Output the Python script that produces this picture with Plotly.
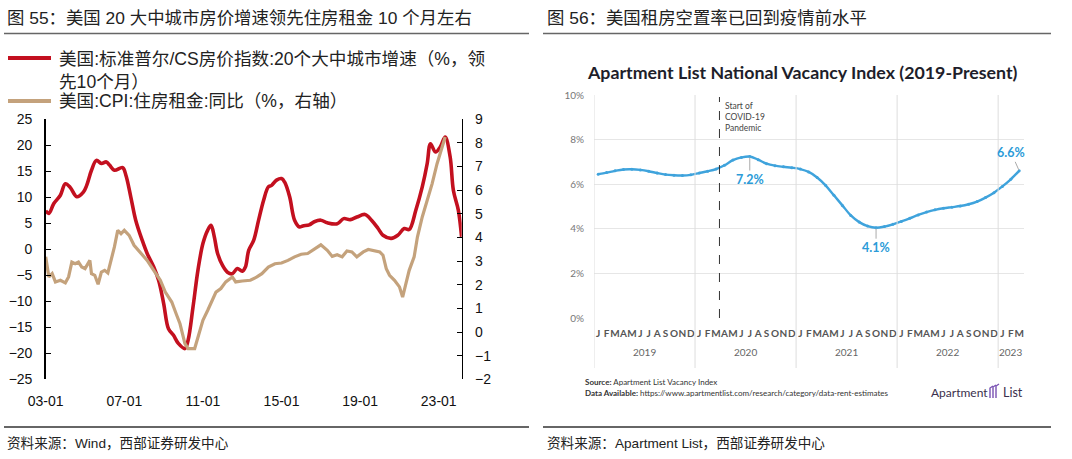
import plotly.graph_objects as go

# ---------------- Left panel data ----------------
red_dates = ["2003-01","2003-03","2003-06","2003-10","2004-01","2004-04","2004-08","2004-12","2005-02","2005-05",
             "2005-08","2005-11","2006-02","2006-04","2006-07","2006-12","2007-02","2007-05","2007-08","2007-12",
             "2008-03","2008-07","2008-10","2009-01","2009-04","2009-07","2009-10","2010-02","2010-04","2010-07",
             "2010-10","2011-01","2011-04","2011-06","2011-08","2011-10","2012-01","2012-04","2012-07","2012-10",
             "2013-01","2013-03","2013-05","2013-08","2013-11","2014-02","2014-05","2014-07","2014-10","2015-01",
             "2015-03","2015-06","2015-09","2015-12","2016-02","2016-06","2016-09","2017-01","2017-05","2017-11",
             "2018-03","2018-07","2018-11","2019-04","2019-08","2019-12","2020-03","2020-08","2020-12","2021-04",
             "2021-07","2021-11","2022-03","2022-06","2022-08","2022-11","2023-02","2023-05","2023-08","2023-10",
             "2024-01","2024-03"]
red_values = [7.4,6.9,8.8,10.4,12.6,11.9,10.1,11.0,12.3,15.2,
              17.1,16.5,16.8,16.2,15.2,15.7,14.2,10.1,5.6,1.7,
              -0.8,-3.4,-6.0,-10.4,-15.3,-16.5,-18.1,-19.1,-17.5,-11.1,
              -4.0,1.1,3.7,4.6,2.4,-0.8,-3.1,-4.4,-4.7,-3.7,
              -4.2,-3.4,-0.2,1.7,5.6,9.4,12.0,12.3,13.3,13.6,
              12.9,10.1,5.6,4.3,4.5,4.7,5.3,5.6,5.1,4.9,
              5.9,5.7,6.2,6.7,5.6,4.0,2.7,2.1,2.7,4.0,
              3.8,7.5,12.0,16.5,20.3,18.7,19.7,21.6,17.8,11.3,
              7.5,2.4]

tan_dates = ["2003-01","2003-03","2003-05","2003-07","2003-10","2004-01","2004-03","2004-05","2004-07","2004-09",
             "2004-11","2005-01","2005-04","2005-05","2005-07","2005-09","2005-11","2006-01","2006-03","2006-05",
             "2006-07","2006-09","2006-11","2007-01","2007-04","2007-07","2007-11","2008-03","2008-07","2008-11",
             "2009-02","2009-06","2009-09","2009-11","2010-02","2010-04","2010-08","2010-10","2011-01","2011-04",
             "2011-07","2011-09","2011-12","2012-03","2012-07","2012-09","2013-01","2013-06","2013-10","2014-01",
             "2014-05","2014-09","2015-01","2015-05","2015-09","2016-01","2016-05","2016-09","2017-01","2017-05",
             "2017-08","2017-11","2018-02","2018-05","2018-08","2018-11","2019-03","2019-06","2019-09","2020-01",
             "2020-03","2020-05","2020-07","2020-10","2021-01","2021-03","2021-05","2021-07","2021-10","2021-12",
             "2022-03","2022-06","2022-09","2022-12","2023-03","2023-05"]
tan_values = [3.18,2.33,2.47,2.12,2.19,2.08,2.33,2.96,2.89,2.96,
              2.75,2.68,3.03,2.47,2.40,2.02,2.54,2.61,2.50,3.03,
              3.60,4.30,4.16,4.30,4.09,3.67,3.32,3.03,2.61,2.19,
              1.69,1.27,0.71,0.35,-0.49,-0.70,-0.70,-0.21,0.50,0.92,
              1.34,1.69,1.84,2.12,2.33,2.12,2.16,2.19,2.33,2.47,
              2.75,2.89,2.92,3.03,3.18,3.29,3.32,3.50,3.69,3.46,
              3.20,3.27,3.18,3.43,3.39,3.18,3.39,3.49,3.46,3.39,
              3.25,2.68,2.40,2.19,1.91,1.48,2.05,2.61,3.18,4.02,
              4.87,5.57,6.28,7.12,7.83,8.25]

left_tick_dates = ["2003-01-01","2007-01-01","2011-01-01","2015-01-01","2019-01-01","2023-01-01"]
left_tick_text = ["03-01","07-01","11-01","15-01","19-01","23-01"]
left_y_ticks = [-25,-20,-15,-10,-5,0,5,10,15,20,25]
right_y_ticks = [-2,-1,0,1,2,3,4,5,6,7,8,9]

# ---------------- Right panel data ----------------
vac_values = [6.45,6.52,6.60,6.66,6.67,6.64,6.58,6.50,6.43,6.40,6.39,6.42,
              6.50,6.58,6.68,6.85,7.08,7.20,7.24,7.10,6.92,6.83,6.78,6.74,
              6.68,6.55,6.30,5.95,5.50,5.05,4.60,4.30,4.12,4.05,4.10,4.20,
              4.33,4.47,4.62,4.75,4.85,4.92,4.97,5.02,5.10,5.22,5.40,5.62,
              5.90,6.22,6.60]
month_letters = ["J","F","M","A","M","J","J","A","S","O","N","D"]
vac_month_idx = list(range(len(vac_values)))
vac_month_text = [month_letters[i % 12] for i in vac_month_idx]
year_labels = ["2019","2020","2021","2022","2023"]
year_centers = [5.5, 17.5, 29.5, 41.5, 49]
year_bounds = [-0.5, 11.5, 23.5, 35.5, 47.5]
covid_x = 14.4
vac_y_ticks = [0, 2, 4, 6, 8, 10]
vac_labels = [(18, 7.24, "7.2%", 0, 23), (33, 4.05, "4.1%", 0, 20), (50, 6.60, "6.6%", -8, -18)]

# ---------------- Layout helpers ----------------
W, H = 1072, 459
def px(x):
    return x / W
def py(y):
    return 1 - y / H

LAT = "Liberation Sans, Arial, Noto Sans CJK SC"
CJK = "Liberation Sans, Arial, Noto Sans CJK SC"
RED = "#c3101f"
TAN = "#c4a27c"
BLUE = "#3fa3dc"

left_dom_x = [px(45.7), px(461.7)]
left_dom_y = [py(379.3), py(119.3)]
right_dom_x = [px(594), px(1024)]
right_dom_y = [py(318), py(95)]

fig = go.Figure()
fig.add_trace(go.Scatter(x=red_dates, y=red_values, mode="lines", line=dict(color=RED, width=3.6),
                         xaxis="x", yaxis="y", showlegend=False, line_shape="spline"))
fig.add_trace(go.Scatter(x=tan_dates, y=tan_values, mode="lines", line=dict(color=TAN, width=3.2),
                         xaxis="x", yaxis="y2", showlegend=False))
fig.add_trace(go.Scatter(x=vac_month_idx, y=vac_values, mode="lines+markers",
                         line=dict(color=BLUE, width=2.4, shape="spline"),
                         marker=dict(size=3, color=BLUE), xaxis="x3", yaxis="y3", showlegend=False))

shapes = []
annotations = []

# rules
for x0, x1 in [(4, 529), (543, 1051)]:
    shapes.append(dict(type="line", xref="paper", yref="paper", x0=px(x0), x1=px(x1), y0=py(33.5), y1=py(33.5),
                       line=dict(color="#666", width=1.5)))
    shapes.append(dict(type="line", xref="paper", yref="paper", x0=px(x0), x1=px(x1), y0=py(427), y1=py(427),
                       line=dict(color="#333", width=1.5)))

# titles
annotations.append(dict(xref="paper", yref="paper", x=px(5), y=py(18), xanchor="left", yanchor="middle",
                        text="图 55：美国 20 大中城市房价增速领先住房租金 10 个月左右", showarrow=False,
                        font=dict(family=CJK, size=17.4, color="#222")))
annotations.append(dict(xref="paper", yref="paper", x=px(545), y=py(18), xanchor="left", yanchor="middle",
                        text="图 56：美国租房空置率已回到疫情前水平", showarrow=False,
                        font=dict(family=CJK, size=17.4, color="#222")))
# sources
annotations.append(dict(xref="paper", yref="paper", x=px(5), y=py(443), xanchor="left", yanchor="middle",
                        text="资料来源：Wind，西部证券研发中心", showarrow=False,
                        font=dict(family=CJK, size=13.6, color="#222")))
annotations.append(dict(xref="paper", yref="paper", x=px(545), y=py(443), xanchor="left", yanchor="middle",
                        text="资料来源：Apartment List，西部证券研发中心", showarrow=False,
                        font=dict(family=CJK, size=13.6, color="#222")))

# left legend
shapes.append(dict(type="line", xref="paper", yref="paper", x0=px(8), x1=px(51), y0=py(58), y1=py(58),
                   line=dict(color=RED, width=4)))
shapes.append(dict(type="line", xref="paper", yref="paper", x0=px(8), x1=px(51), y0=py(101), y1=py(101),
                   line=dict(color=TAN, width=4)))
annotations.append(dict(xref="paper", yref="paper", x=px(57), y=py(46.5), xanchor="left", yanchor="top",
                        text="美国:标准普尔/CS房价指数:20个大中城市增速（%，领<br>先10个月）", align="left",
                        showarrow=False, font=dict(family=CJK, size=17.6, color="#222")))
annotations.append(dict(xref="paper", yref="paper", x=px(57), y=py(101), xanchor="left", yanchor="middle",
                        text="美国:CPI:住房租金:同比（%，右轴）", align="left",
                        showarrow=False, font=dict(family=CJK, size=17.6, color="#222")))

# right inner chart decorations
annotations.append(dict(xref="paper", yref="paper", x=px(802), y=py(72), xanchor="center", yanchor="middle",
                        text="<b>Apartment List National Vacancy Index (2019-Present)</b>", showarrow=False,
                        font=dict(family="Lato", size=17.8, color="#1e1e2a")))
for xb in year_bounds:
    shapes.append(dict(type="line", xref="x3", yref="paper", x0=xb, x1=xb, y0=py(368), y1=py(95),
                       line=dict(color="#dddddd", width=1)))
shapes.append(dict(type="line", xref="x3", yref="paper", x0=covid_x, x1=covid_x, y0=py(318), y1=py(97),
                   line=dict(color="#333", width=1, dash="dash")))
annotations.append(dict(xref="x3", yref="paper", x=covid_x, y=py(99), xanchor="left", yanchor="top", xshift=4,
                        text="Start of<br>COVID-19<br>Pandemic", align="left", showarrow=False,
                        font=dict(family="Lato", size=8.5, color="#444")))
for xc, yl in zip(year_centers, year_labels):
    annotations.append(dict(xref="x3", yref="paper", x=xc, y=py(352), xanchor="center", yanchor="middle",
                            text=yl, showarrow=False, font=dict(family="Lato", size=10, color="#666")))
for xi, yv, t, axo, ayo in vac_labels:
    annotations.append(dict(xref="x3", yref="y3", x=xi, y=yv, text="<b>%s</b>" % t, showarrow=True,
                            arrowhead=0, arrowwidth=1, arrowcolor="#aaaaaa", ax=axo, ay=ayo, standoff=1,
                            font=dict(family="Lato", size=12.5, color="#2b9bd8")))
annotations.append(dict(xref="paper", yref="paper", x=px(583), y=py(382), xanchor="left", yanchor="middle",
                        text="<b>Source:</b> Apartment List Vacancy Index", showarrow=False,
                        font=dict(family="Lato", size=8, color="#333")))
annotations.append(dict(xref="paper", yref="paper", x=px(583), y=py(393), xanchor="left", yanchor="middle",
                        text="<b>Data Available:</b> https://www.apartmentlist.com/research/category/data-rent-estimates",
                        showarrow=False, font=dict(family="Lato", size=8, color="#333")))
annotations.append(dict(xref="paper", yref="paper", x=px(929), y=py(392), xanchor="left", yanchor="middle",
                        text="Apartment", showarrow=False, font=dict(family="Lato", size=12, color="#3a2f4c")))
annotations.append(dict(xref="paper", yref="paper", x=px(1001), y=py(392), xanchor="left", yanchor="middle",
                        text="List", showarrow=False, font=dict(family="Lato", size=12.5, color="#3a2f4c")))
# small logo glyph
for k, off in enumerate([0, 3, 6]):
    shapes.append(dict(type="path", xref="paper", yref="paper",
                       path="M %f %f L %f %f L %f %f" % (px(990 + off), py(398), px(990 + off), py(388 - k),
                                                          px(993 + off), py(386 - k)),
                       line=dict(color="#7a52b3", width=1.4)))

fig.update_layout(
    width=W, height=H, margin=dict(l=0, r=0, t=0, b=0, autoexpand=False),
    paper_bgcolor="white", plot_bgcolor="rgba(0,0,0,0)", hovermode=False,
    showlegend=False, shapes=shapes, annotations=annotations,
    xaxis=dict(domain=left_dom_x, anchor="y", type="date", range=["2003-01-01", "2024-03-03"],
               tickvals=left_tick_dates, ticktext=left_tick_text, ticks="", showline=False,
               showgrid=False, zeroline=False, ticklabelstandoff=12,
               tickfont=dict(family=LAT, size=14, color="#111")),
    xaxis2=dict(domain=left_dom_x, overlaying="x", anchor="free",
                position=(left_dom_y[0] + left_dom_y[1]) / 2, type="date", range=["2003-01-01", "2024-03-03"],
                tickvals=left_tick_dates, showticklabels=False, ticks="inside", ticklen=5,
                tickcolor="#000", showline=True, linecolor="#000", linewidth=1.3, showgrid=False, zeroline=False),
    yaxis=dict(domain=left_dom_y, anchor="x", range=[-25, 25], tickvals=left_y_ticks, ticks="inside", ticklen=5,
               tickcolor="#000", showline=True, linecolor="#000", linewidth=1.5, showgrid=False, zeroline=False,
               ticklabelstandoff=9, tickfont=dict(family=LAT, size=14, color="#111")),
    yaxis2=dict(overlaying="y", side="right", anchor="x", range=[-2, 9], tickvals=right_y_ticks,
                ticks="inside", ticklen=5, tickcolor="#000", showline=True, linecolor="#000", linewidth=1.5,
                showgrid=False, zeroline=False, ticklabelstandoff=9,
                tickfont=dict(family=LAT, size=14, color="#111")),
    xaxis3=dict(domain=right_dom_x, anchor="y3", range=[-0.5, 50.57], tickvals=vac_month_idx,
                ticktext=vac_month_text, ticks="", showline=False, showgrid=False, zeroline=False,
                ticklabelstandoff=8, tickangle=0,
                tickfont=dict(family="Lato", size=10, color="#555", weight="bold")),
    yaxis3=dict(domain=right_dom_y, anchor="x3", range=[0, 10], tickvals=vac_y_ticks,
                ticktext=["%d%%" % v for v in vac_y_ticks], ticks="", showline=False, showgrid=True,
                gridcolor="#e6e6e6", gridwidth=1, zeroline=False, ticklabelstandoff=9,
                tickfont=dict(family="Lato", size=10, color="#777")),
)

fig.write_html("out.html", config={"displayModeBar": False, "staticPlot": True},
               post_script="document.body.style.margin='0';document.body.style.overflow='hidden';")
